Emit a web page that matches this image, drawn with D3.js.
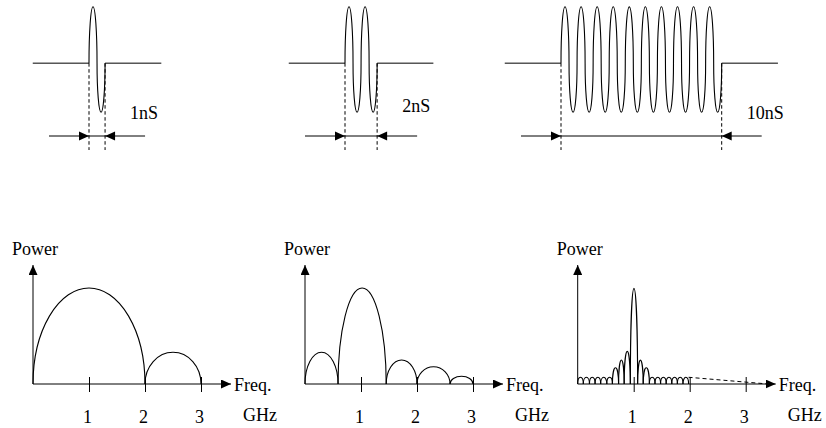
<!DOCTYPE html>
<html>
<head>
<meta charset="utf-8">
<script src="https://cdn.jsdelivr.net/npm/d3@7"></script>
<style>
  body { margin: 0; background: #fff; }
  text { font-family: "Liberation Serif", "Times New Roman", serif; font-size: 18px; fill: #000; }
</style>
</head>
<body>
<script>
/*
*    pulse width vs. spectrum
*/

// Pulses (1 GHz carrier, one cycle per ns)
var pulseCycles = [1, 2, 10];
var pulseLabels = ["1nS", "2nS", "10nS"];
var carrierUp = 1, carrierDown = -0.87;

// Spectra: lobe edges (GHz) and lobe power
var freqTicks = [1, 2, 3];
var edges1 = [0, 2, 3];
var power1 = [1.0, 0.33];
var edges2 = [0, 0.59, 1.45, 2.0, 2.59, 3.0];
var power2 = [0.33, 1.0, 0.25, 0.18, 0.08];
var edges3 = [0, 0.10, 0.21, 0.31, 0.41, 0.52, 0.62, 0.73, 0.83, 0.94, 1.07,
              1.17, 1.28, 1.38, 1.48, 1.58, 1.68, 1.78, 1.88, 1.98];
var power3 = [0.07, 0.07, 0.07, 0.07, 0.07, 0.07, 0.17, 0.25, 0.34, 1.0,
              0.25, 0.17, 0.07, 0.07, 0.07, 0.07, 0.07, 0.07, 0.07];
var tailFreq = [1.98, 3.4];
var tailPower = [0.07, 0];

var spectra = [
    {edges: edges1, power: power1},
    {edges: edges2, power: power2},
    {edges: edges3, power: power3, tail: true}
];

var svg = d3.select("body").append("svg")
    .attr("width", 826)
    .attr("height", 428);

// Arrowhead
svg.append("defs").append("marker")
    .attr("id", "arrow")
    .attr("viewBox", "0 0 10 9")
    .attr("refX", 10)
    .attr("refY", 4.5)
    .attr("markerWidth", 10)
    .attr("markerHeight", 9)
    .attr("markerUnits", "userSpaceOnUse")
    .attr("orient", "auto")
  .append("path")
    .attr("d", "M0,0L10,4.5L0,9Z")
    .attr("fill", "#000");

function arcTo(x1, y1, rx, ry, sweep) {
    return "A" + rx + "," + ry + " 0 0 " + sweep + " " + x1 + "," + y1;
}

// ---------- Top row: RF pulses ----------
var pulseStart = [89, 345, 561],
    nsWidth = 16.07,
    labelY = [119, 112, 119];

var yPulse = d3.scaleLinear().domain([carrierDown, carrierUp]).range([112.3, 6.7]);

pulseCycles.forEach(function(n, i) {
    var x = d3.scaleLinear().domain([0, n]).range([pulseStart[i], pulseStart[i] + n * nsWidth]);
    var g = svg.append("g");
    var y0 = yPulse(0);

    // idle line either side
    g.append("line")
        .attr("x1", x(-3.5)).attr("x2", x(0))
        .attr("y1", y0).attr("y2", y0)
        .attr("stroke", "#000");
    g.append("line")
        .attr("x1", x(n)).attr("x2", x(n + 3.5))
        .attr("y1", y0).attr("y2", y0)
        .attr("stroke", "#000");

    // carrier
    var d = "M" + x(0) + "," + y0;
    d3.range(n).forEach(function(c) {
        var a = x(c), m = x(c + 0.5), b = x(c + 1);
        d += arcTo(m, y0, (m - a) / 2, y0 - yPulse(carrierUp), 1);
        d += arcTo(b, y0, (b - m) / 2, yPulse(carrierDown) - y0, 0);
    });
    g.append("path")
        .attr("d", d)
        .attr("fill", "none")
        .attr("stroke", "#000")
        .attr("stroke-width", 1.1);

    // dashed markers
    [0, n].forEach(function(t) {
        g.append("line")
            .attr("x1", x(t)).attr("x2", x(t))
            .attr("y1", y0).attr("y2", 150)
            .attr("stroke", "#000")
            .attr("stroke-dasharray", "3.5,2.5");
    });

    // width dimension
    var ay = 136;
    g.append("line")
        .attr("x1", x(0) - 40).attr("x2", x(n) + 40)
        .attr("y1", ay).attr("y2", ay)
        .attr("stroke", "#000");
    g.append("path")
        .attr("d", "M" + x(0) + "," + ay + "l-10,-4.5v9Z")
        .attr("fill", "#000");
    g.append("path")
        .attr("d", "M" + x(n) + "," + ay + "l10,-4.5v9Z")
        .attr("fill", "#000");

    g.append("text")
        .attr("x", x(n) + 25)
        .attr("y", labelY[i])
        .text(pulseLabels[i]);
});

// ---------- Bottom row: spectra ----------
var specOrigin = [33, 305, 577.7],
    ghzWidth = 56,
    baseY = 384,
    topY = 265;

spectra.forEach(function(s, i) {
    var x = d3.scaleLinear().domain([0, 1]).range([specOrigin[i], specOrigin[i] + ghzWidth]);
    var y = d3.scaleLinear().domain([0, (baseY - topY) / 96]).range([baseY, topY]);
    var g = svg.append("g");

    // axes
    g.append("line")
        .attr("x1", x(0)).attr("x2", x(0))
        .attr("y1", y(0)).attr("y2", topY)
        .attr("stroke", "#000")
        .attr("marker-end", "url(#arrow)");
    g.append("line")
        .attr("x1", x(0)).attr("x2", x(0) + 198)
        .attr("y1", y(0)).attr("y2", y(0))
        .attr("stroke", "#000")
        .attr("marker-end", "url(#arrow)");

    var xAxis = g.append("g")
        .attr("transform", "translate(0," + y(0) + ")")
        .call(d3.axisBottom(x).tickValues(freqTicks).tickFormat(d3.format("d"))
            .tickSizeInner(8).tickSizeOuter(0).tickPadding(18));
    xAxis.select(".domain").remove();
    xAxis.selectAll(".tick line").attr("y1", -7).attr("stroke", "#000");
    xAxis.selectAll(".tick text")
        .attr("dx", -2)
        .style("font-family", "'Liberation Serif', 'Times New Roman', serif")
        .style("font-size", "18px")
        .attr("fill", "#000");

    // lobes
    g.selectAll(".lobe")
        .data(s.power)
      .enter().append("path")
        .attr("class", "lobe")
        .attr("fill", "none")
        .attr("stroke", "#000")
        .attr("stroke-width", 1.1)
        .attr("d", function(p, j) {
            var a = x(s.edges[j]), b = x(s.edges[j + 1]);
            return "M" + a + "," + y(0) + arcTo(b, y(0), (b - a) / 2, y(0) - y(p), 1);
        });

    if (s.tail) {
        g.append("line")
            .attr("x1", x(tailFreq[0])).attr("y1", y(tailPower[0]))
            .attr("x2", x(tailFreq[1])).attr("y2", y(tailPower[1]))
            .attr("stroke", "#000")
            .attr("stroke-dasharray", "4,3");
    }

    // labels
    g.append("text")
        .attr("x", x(0) - 21)
        .attr("y", 255)
        .text("Power");
    g.append("text")
        .attr("x", x(0) + 201)
        .attr("y", 391)
        .text("Freq.");
    g.append("text")
        .attr("x", x(0) + 210)
        .attr("y", 421)
        .text("GHz");
});
</script>
</body>
</html>
